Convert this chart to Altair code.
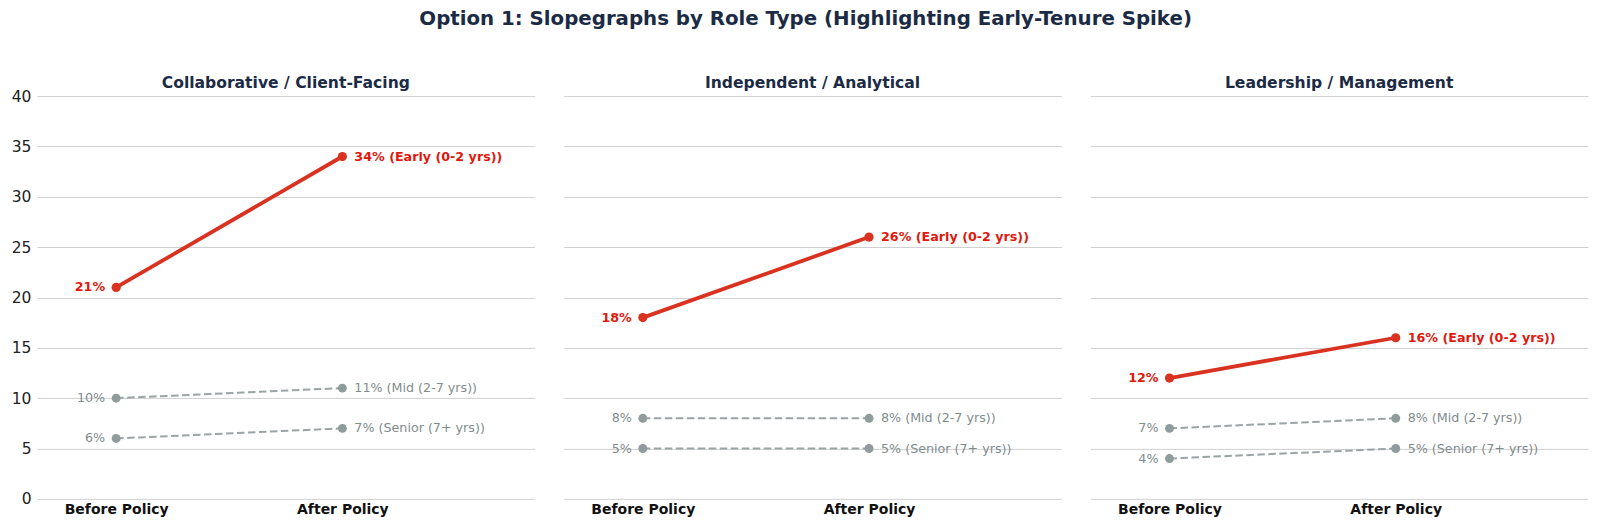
import altair as alt
import pandas as pd

roles = ["Collaborative / Client-Facing", "Independent / Analytical", "Leadership / Management"]
tenures = ["Early (0-2 yrs)", "Mid (2-7 yrs)", "Senior (7+ yrs)"]
before_vals = [[21, 10, 6], [18, 8, 5], [12, 7, 4]]
after_vals = [[34, 11, 7], [26, 8, 5], [16, 8, 5]]
periods = ["Before Policy", "After Policy"]

rows = []
for r, role in enumerate(roles):
    for t, ten in enumerate(tenures):
        for p, vals in enumerate([before_vals, after_vals]):
            v = vals[r][t]
            label = f"{v}%" if p == 0 else f"{v}% ({ten})"
            rows.append({"role": role, "tenure": ten, "pos": p, "value": v,
                         "label": label, "early": t == 0})
df = pd.DataFrame(rows)

RED_LINE = "#da3220"
RED_TEXT = "#e0180e"
GRAY = "#8f9b9c"
GRAY_LINE = "#9ba3a4"
GRAY_TEXT = "#7f8c8d"
NAVY = "#1c2b45"
FONT = "DejaVu Sans"

x_enc = alt.X("pos:Q", scale=alt.Scale(domain=[-0.35, 1.85]),
              axis=alt.Axis(values=[0, 1], title=None, grid=False, ticks=False, domain=False,
                            labelExpr="datum.value == 0 ? 'Before Policy' : 'After Policy'",
                            labelFontWeight="bold", labelFontSize=14.0, labelColor="#111111",
                            labelPadding=4, labelFont=FONT))
y_enc = alt.Y("value:Q", scale=alt.Scale(domain=[0, 40], nice=False),
              axis=alt.Axis(values=[0, 5, 10, 15, 20, 25, 30, 35, 40], title=None,
                            ticks=False, domain=False, labelFontSize=15.5, labelColor="#222222",
                            labelPadding=6, gridColor="#d0d0d0", gridWidth=1, labelFont=FONT))

base = alt.Chart().encode(x=x_enc, y=y_enc)

early = base.transform_filter("datum.early")
other = base.transform_filter("!datum.early")

gray_line = other.mark_line(color=GRAY_LINE, strokeWidth=2, strokeDash=[7.5, 3.5]).encode(detail="tenure:N")
gray_pts = other.mark_circle(color=GRAY, size=80, opacity=1)
red_line = early.mark_line(color=RED_LINE, strokeWidth=3.8).encode(detail="tenure:N")
red_pts = early.mark_circle(color=RED_LINE, size=85, opacity=1)

gray_left = other.transform_filter("datum.pos == 0").mark_text(
    align="right", dx=-11, fontSize=12.7, color=GRAY_TEXT, font=FONT).encode(text="label:N")
gray_right = other.transform_filter("datum.pos == 1").mark_text(
    align="left", dx=12, fontSize=12.7, color=GRAY_TEXT, font=FONT).encode(text="label:N")
red_left = early.transform_filter("datum.pos == 0").mark_text(
    align="right", dx=-11, fontSize=12.7, fontWeight="bold", color=RED_TEXT, font=FONT).encode(text="label:N")
red_right = early.transform_filter("datum.pos == 1").mark_text(
    align="left", dx=12, fontSize=12.7, fontWeight="bold", color=RED_TEXT, font=FONT).encode(text="label:N")

layered = alt.layer(gray_line, gray_pts, red_line, red_pts,
                    gray_left, gray_right, red_left, red_right).properties(width=498, height=403)

chart = layered.facet(
    column=alt.Column("role:N", sort=roles,
                      header=alt.Header(title=None, labelFontSize=15.6, labelFontWeight="bold",
                                        labelColor=NAVY, labelPadding=5, labelFont=FONT)),
    data=df,
    spacing=29,
).properties(
    title=alt.TitleParams("Option 1: Slopegraphs by Role Type (Highlighting Early-Tenure Spike)",
                          fontSize=19.8, fontWeight="bold", color=NAVY, font=FONT,
                          anchor="middle", offset=47, dx=6),
).configure(font=FONT, padding={"left": 3, "right": 4, "top": 0, "bottom": 4}
).configure_view(stroke=None)

chart.save("out.html", embed_options={"renderer": "svg", "actions": False})
